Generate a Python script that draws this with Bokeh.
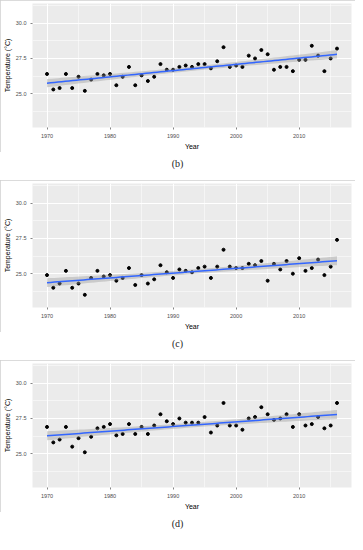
import numpy as np
from bokeh.plotting import figure
from bokeh.models import FixedTicker, Div, Range1d, PrintfTickFormatter
from bokeh.layouts import column
from bokeh.embed import file_html
from bokeh.resources import INLINE

years = list(range(1970, 2017))
temp_b = [26.4, 25.3, 25.4, 26.4, 25.4, 26.2, 25.2, 26.0, 26.4, 26.3,
          26.4, 25.6, 26.2, 26.9, 25.6, 26.3, 25.9, 26.2, 27.1, 26.7,
          26.7, 26.9, 27.0, 26.9, 27.1, 27.1, 26.8, 27.3, 28.3, 26.9,
          27.0, 26.9, 27.7, 27.5, 28.1, 27.8, 26.7, 26.9, 26.9, 26.6,
          27.4, 27.4, 28.4, 27.7, 26.6, 27.5, 28.2]
temp_c = [24.9, 24.0, 24.3, 25.2, 24.0, 24.3, 23.5, 24.7, 25.2, 24.8,
          24.9, 24.5, 24.7, 25.4, 24.2, 24.9, 24.3, 24.6, 25.6, 25.1,
          24.7, 25.3, 25.2, 25.1, 25.4, 25.5, 24.7, 25.5, 26.7, 25.5,
          25.4, 25.4, 25.7, 25.6, 25.9, 24.5, 25.7, 25.3, 25.9, 25.0,
          26.1, 25.2, 25.4, 26.0, 24.9, 25.5, 27.4]
temp_d = [26.9, 25.8, 26.0, 26.9, 25.5, 26.1, 25.1, 26.2, 26.8, 26.9,
          27.1, 26.3, 26.4, 27.1, 26.4, 26.9, 26.4, 27.0, 27.8, 27.3,
          27.1, 27.5, 27.2, 27.2, 27.2, 27.6, 26.5, 27.0, 28.6, 27.0,
          27.0, 26.7, 27.5, 27.6, 28.3, 27.8, 27.4, 27.5, 27.8, 26.9,
          27.8, 27.0, 27.1, 27.6, 26.8, 27.0, 28.6]
captions = ["(b)", "(c)", "(d)"]
x_ticks = [1970, 1980, 1990, 2000, 2010]
y_ticks = [25.0, 27.5, 30.0]
y_limits = (23.0, 31.0)
x_label = "Year"
y_label = "Temperature (\u00b0C)"

T_CRIT = 2.0141  # t(0.975, df=45)


def expand(lo, hi, f=0.05):
    d = (hi - lo) * f
    return lo - d, hi + d


def minors(ticks):
    step = ticks[1] - ticks[0]
    out = [ticks[0] - step / 2]
    for t in ticks:
        out.append(t + step / 2)
    return out


def panel(vals):
    x = np.array(years, dtype=float)
    y = np.array(vals, dtype=float)
    xr = expand(min(years), max(years))
    yr = expand(*y_limits)
    p = figure(width=355, height=152, output_backend="svg", toolbar_location=None,
               x_range=Range1d(*xr), y_range=Range1d(*yr),
               min_border_left=27, min_border_right=4, min_border_top=3,
               min_border_bottom=20)
    p.styles = {"outline": "1px solid #cfcfcf", "outline-offset": "-1px"}
    p.background_fill_color = "#EBEBEB"
    p.border_fill_color = "white"
    p.outline_line_color = None

    p.xaxis.ticker = FixedTicker(ticks=x_ticks, minor_ticks=minors(x_ticks))
    p.yaxis.ticker = FixedTicker(ticks=y_ticks, minor_ticks=minors(y_ticks))
    p.yaxis.formatter = PrintfTickFormatter(format="%.1f")
    for g in (p.xgrid, p.ygrid):
        g.grid_line_color = "white"
        g.grid_line_width = 1
        g.minor_grid_line_color = "white"
        g.minor_grid_line_width = 0.5
    for ax in (p.xaxis, p.yaxis):
        ax.axis_line_color = None
        ax.major_tick_line_color = "#333333"
        ax.major_tick_line_width = 0.6
        ax.major_tick_out = 2
        ax.major_tick_in = 0
        ax.minor_tick_line_color = None
        ax.major_label_text_font = "Liberation Sans"
        ax.major_label_text_font_size = "5.5px"
        ax.major_label_text_color = "#4D4D4D"
        ax.major_label_standoff = 2
        ax.axis_label_text_font = "Liberation Sans"
        ax.axis_label_text_font_size = "7px"
        ax.axis_label_text_font_style = "normal"
        ax.axis_label_text_color = "black"
        ax.axis_label_standoff = 2
    p.xaxis.axis_label = x_label
    p.yaxis.axis_label = y_label

    p.scatter(x, y, size=3, color="black")

    slope, icpt = np.polyfit(x, y, 1)
    resid = y - (slope * x + icpt)
    n = len(x)
    s = np.sqrt(np.sum(resid ** 2) / (n - 2))
    sxx = np.sum((x - x.mean()) ** 2)
    xs = np.linspace(x.min(), x.max(), 80)
    fit = slope * xs + icpt
    se = s * np.sqrt(1.0 / n + (xs - x.mean()) ** 2 / sxx)
    p.varea(x=xs, y1=fit - T_CRIT * se, y2=fit + T_CRIT * se,
            fill_color="#999999", fill_alpha=0.4)
    p.line(xs, fit, line_color="#3366FF", line_width=1.5)
    return p


def caption(txt, h):
    return Div(text=f'<div style="width:355px;text-align:center;padding-top:6px;'
                    f'line-height:11px;font-family:\'Liberation Serif\';font-size:10px;'
                    f'color:#222">{txt}</div>',
               width=355, height=h, styles={"margin": "0", "overflow": "hidden"})


items = []
series = [temp_b, temp_c, temp_d]
for i, (vals, cap) in enumerate(zip(series, captions)):
    items.append(panel(vals))
    items.append(caption(cap, 28 if i < 2 else 20))

layout = column(*items, spacing=0)
open("out.html", "w").write(file_html(layout, INLINE))
